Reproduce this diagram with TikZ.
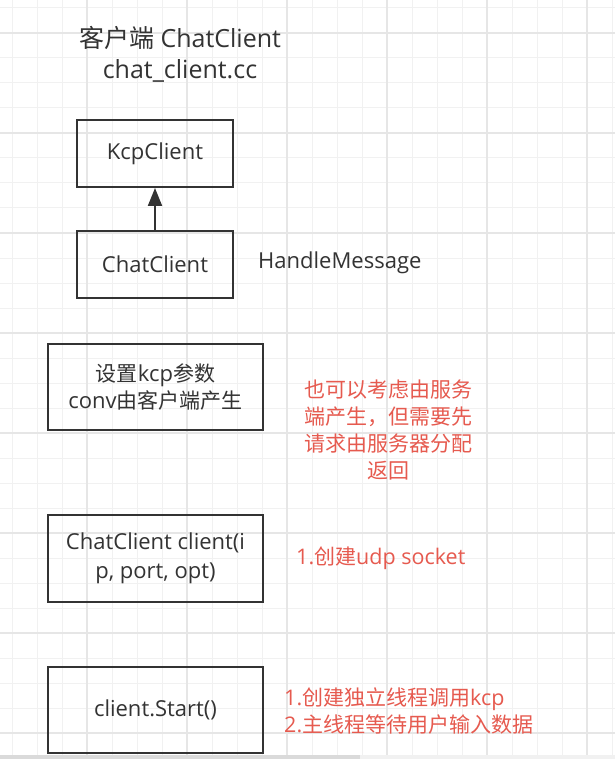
\documentclass[tikz,border=0pt]{standalone}
\usepackage{fontspec}
\setmainfont{Open Sans}
\newfontfamily\zhfont{Noto Sans CJK SC}
\newcommand{\zh}[1]{{\zhfont\fontsize{21}{27}\selectfont #1}}
\usetikzlibrary{arrows.meta}
\definecolor{ink}{HTML}{333333}
\definecolor{redtxt}{HTML}{E65A4F}
\definecolor{gridminor}{HTML}{F1F1F1}
\definecolor{gridmajor}{HTML}{E6E6E6}
\definecolor{scrollbar}{HTML}{DADADA}
\begin{document}
\begin{tikzpicture}[x=1pt,y=-1pt,
  box/.style={draw=ink, line width=2pt, inner sep=0pt, text=ink, align=center},
  smallbox/.style={box, minimum width=156pt, minimum height=67pt, font=\fontsize{22}{27}\selectfont},
  widebox/.style={box, minimum width=215pt, minimum height=86pt, font=\fontsize{22}{27}\selectfont},
  plain/.style={text=ink, inner sep=0pt},
  note/.style={text=redtxt, inner sep=0pt, font=\fontsize{21.5}{27}\selectfont},
  inherit/.style={draw=ink, line width=2pt, -{Triangle[length=18pt,width=14pt]}}
]
% canvas and grid
\fill[white] (0,0) rectangle (615,759);
\useasboundingbox (0,0) rectangle (615,759);
\foreach \gx in {12,37,...,612} {\draw[gridminor, line width=1pt] (\gx,0) -- (\gx,759);}
\foreach \gy in {8,33,...,758} {\draw[gridminor, line width=1pt] (0,\gy) -- (615,\gy);}
\foreach \gx in {87,187,...,587} {\draw[gridmajor, line width=1.4pt] (\gx,0) -- (\gx,759);}
\foreach \gy in {33,133,...,733} {\draw[gridmajor, line width=1.4pt] (0,\gy) -- (615,\gy);}
\fill[gridminor] (0,755) rectangle (615,759);
\fill[scrollbar] (0,755) rectangle (360,759);

% title
\node[plain, align=center, font=\fontsize{25}{31}\selectfont] (title) at (180,54.5)
  {{\zhfont 客户端} ChatClient\\chat\_client.cc};

% class boxes
\node[smallbox] (kcp) at (155,153.5) {KcpClient};
\node[smallbox] (chat) at (155,264.5) {ChatClient};
\draw[inherit] (chat.north) -- (kcp.south);
\node[plain, anchor=west, font=\fontsize{22}{27}\selectfont] (handle) at (258,263) {HandleMessage};

% steps
\node[widebox] (param) at (155.5,387) {\zh{设置}kcp\zh{参数}\\conv\zh{由客户端产生}};
\node[widebox, minimum height=87pt, font=\fontsize{22}{29}\selectfont] (client) at (155.5,558.5) {ChatClient client(i\\p, port, opt)};
\node[widebox] (start) at (155.5,710) {client.Start()};

% notes
\node[note, align=center, font=\zhfont\fontsize{21}{26.7}\selectfont] (noteA) at (388,430)
  {也可以考虑由服务\\端产生，但需要先\\请求由服务器分配\\返回};
\node[note, anchor=west] (noteB) at (296,558) {1.\zh{创建}udp socket};
\node[note, anchor=west, align=left] (noteC) at (284,711.5)
  {1.\zh{创建独立线程调用}kcp\\2.\zh{主线程等待用户输入数据}};
\end{tikzpicture}
\end{document}
